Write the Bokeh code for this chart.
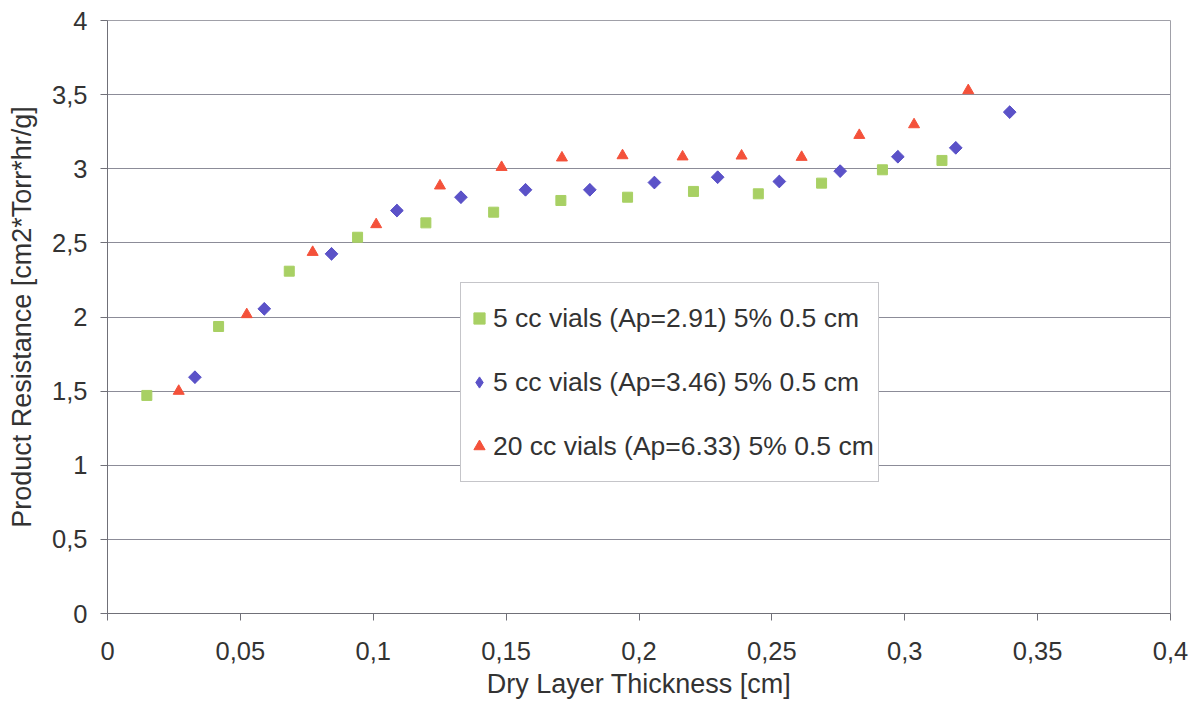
import math
from bokeh.plotting import figure
from bokeh.models import Range1d, Legend, LegendItem, FixedTicker
from bokeh.embed import file_html
from bokeh.resources import INLINE

# ---- data ----
green_x = [0.0148, 0.0418, 0.0684, 0.0941, 0.1198, 0.1453, 0.1706, 0.1957, 0.2205, 0.2449, 0.2687, 0.2916, 0.3140]
green_y = [1.471, 1.936, 2.309, 2.538, 2.635, 2.707, 2.786, 2.808, 2.847, 2.831, 2.903, 2.993, 3.056]

blue_x = [0.0329, 0.0590, 0.0843, 0.1089, 0.1330, 0.1573, 0.1815, 0.2058, 0.2296, 0.2528, 0.2757, 0.2974, 0.3192, 0.3395]
blue_y = [1.594, 2.055, 2.426, 2.718, 2.808, 2.858, 2.858, 2.907, 2.943, 2.914, 2.984, 3.081, 3.141, 3.382]

red_x = [0.0268, 0.0524, 0.0772, 0.1011, 0.1251, 0.1483, 0.1710, 0.1938, 0.2164, 0.2386, 0.2612, 0.2829, 0.3035, 0.3239]
red_y = [1.500, 2.017, 2.437, 2.624, 2.885, 3.010, 3.074, 3.089, 3.081, 3.087, 3.078, 3.226, 3.298, 3.528]

series_labels = [
    "5 cc vials (Ap=2.91) 5% 0.5 cm",
    "5 cc vials (Ap=3.46) 5% 0.5 cm",
    "20 cc vials (Ap=6.33) 5% 0.5 cm",
]

x_ticks = [0, 0.05, 0.1, 0.15, 0.2, 0.25, 0.3, 0.35, 0.4]
x_tick_labels = ["0", "0,05", "0,1", "0,15", "0,2", "0,25", "0,3", "0,35", "0,4"]
y_ticks = [0, 0.5, 1, 1.5, 2, 2.5, 3, 3.5, 4]
y_tick_labels = ["0", "0,5", "1", "1,5", "2", "2,5", "3", "3,5", "4"]

FONT = "Liberation Sans"
GREEN = "#A8D064"
BLUE = "#5B52C8"
RED = "#F4513A"

p = figure(width=1194, height=713, output_backend="svg", toolbar_location=None,
           x_range=Range1d(0, 0.4), y_range=Range1d(0, 4),
           min_border_left=107, min_border_right=24, min_border_top=20, min_border_bottom=100)
p.background_fill_color = "white"
p.border_fill_color = "white"
p.outline_line_color = "#a0a0a8"
p.outline_line_width = 1

# grid
p.xgrid.grid_line_color = None
p.ygrid.grid_line_color = "#8c8c98"
p.ygrid.grid_line_width = 1

# axes
for ax in (p.xaxis[0], p.yaxis[0]):
    ax.axis_line_color = "#707078"
    ax.axis_line_width = 1
    ax.major_tick_line_color = "#707078"
    ax.minor_tick_line_color = None
    ax.major_tick_in = 0
    ax.major_tick_out = 7
    ax.major_label_text_font = FONT
    ax.major_label_text_font_size = "25.5px"
    ax.major_label_text_color = "#333333"
    ax.axis_label_text_font = FONT
    ax.axis_label_text_font_size = "27px"
    ax.axis_label_text_font_style = "normal"
    ax.axis_label_text_color = "#333333"

p.xaxis[0].ticker = FixedTicker(ticks=x_ticks)
p.xaxis[0].major_label_overrides = {t: l for t, l in zip(x_ticks, x_tick_labels)}
p.xaxis[0].major_label_standoff = 21
p.xaxis[0].axis_label = "Dry Layer Thickness [cm]"
p.xaxis[0].axis_label_standoff = 6

p.yaxis[0].ticker = FixedTicker(ticks=y_ticks)
p.yaxis[0].major_label_overrides = {t: l for t, l in zip(y_ticks, y_tick_labels)}
p.yaxis[0].major_label_standoff = 13
p.yaxis[0].axis_label = "Product Resistance [cm2*Torr*hr/g]"
p.yaxis[0].axis_label_standoff = 12

# series
r_green = p.scatter(green_x, green_y, marker="square", size=10,
                    fill_color=GREEN, line_color=GREEN)
# diamond key for the legend (drawn under the rotated squares, which cover it)
r_blue_key = p.scatter(blue_x, blue_y, marker="diamond", size=12,
                       fill_color=BLUE, line_color=BLUE)
r_blue = p.scatter(blue_x, blue_y, marker="square", size=9, angle=math.pi / 4,
                   fill_color=BLUE, line_color=BLUE)
r_red = p.scatter(red_x, red_y, marker="triangle", size=11,
                  fill_color=RED, line_color=RED)

legend = Legend(items=[
    LegendItem(label=series_labels[0], renderers=[r_green]),
    LegendItem(label=series_labels[1], renderers=[r_blue_key]),
    LegendItem(label=series_labels[2], renderers=[r_red]),
], location=(353, 131))
legend.padding = 4
legend.spacing = 2
legend.glyph_width = 28
legend.glyph_height = 62
legend.label_height = 62
legend.label_standoff = 0
legend.label_text_font = FONT
legend.label_text_font_size = "26.5px"
legend.label_text_color = "#333333"
legend.border_line_color = "#8c8c94"
legend.border_line_width = 1.5
legend.background_fill_color = "white"
legend.background_fill_alpha = 1
legend.margin = 0
p.add_layout(legend, "center")

open("out.html", "w").write(file_html(p, INLINE))
